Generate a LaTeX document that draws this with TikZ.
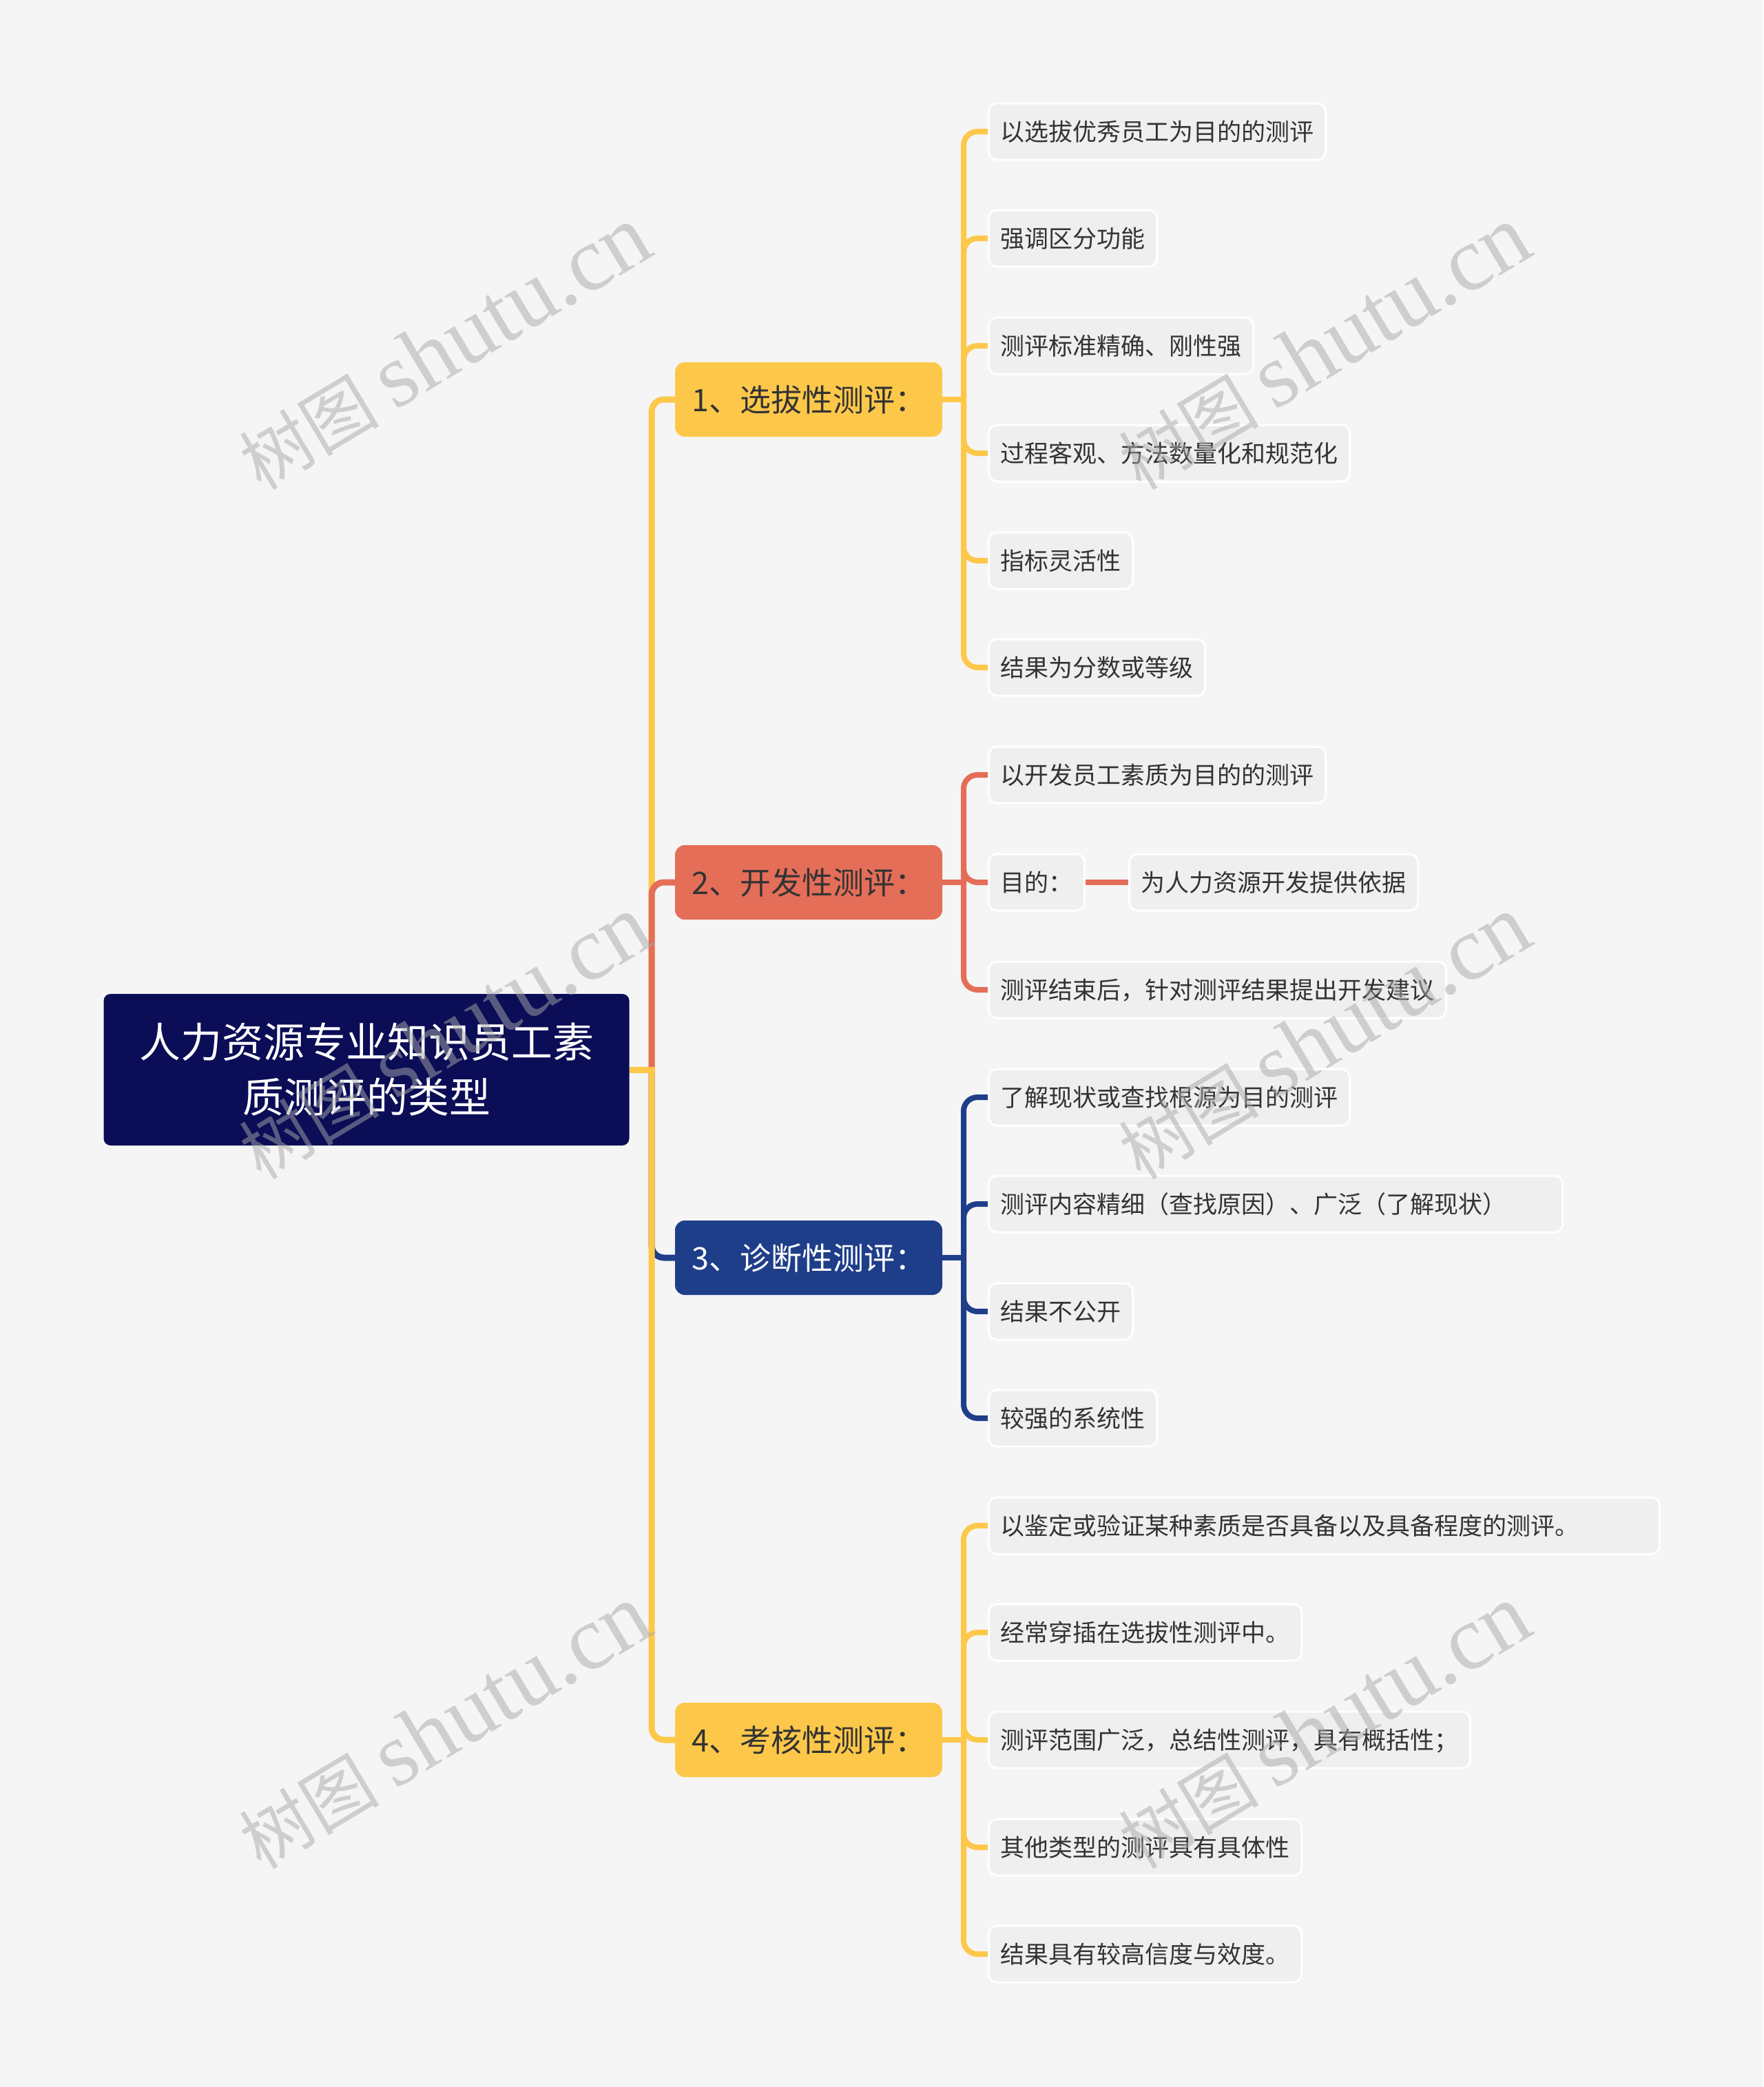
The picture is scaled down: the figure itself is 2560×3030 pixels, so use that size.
\documentclass[tikz,border=0pt]{standalone}
\usepackage{fontspec}
\setmainfont{Noto Sans CJK SC}
\newfontfamily\wmserif{Liberation Serif}
\usetikzlibrary{calc}
\definecolor{bgc}{HTML}{F5F5F5}
\definecolor{rootc}{HTML}{0B0D56}
\definecolor{yel}{HTML}{FDC84A}
\definecolor{sal}{HTML}{E46E58}
\definecolor{nav}{HTML}{1F3E8A}
\definecolor{leaffill}{HTML}{EFEFEF}
\definecolor{txt}{HTML}{333333}
\definecolor{wm}{HTML}{A8A8A8}
\tikzset{
  rootbox/.style={fill=rootc, rounded corners=10, minimum width=763, minimum height=220,
    text=white, font=\fontsize{60}{80}\selectfont, align=center, inner sep=0},
  branchbox/.style={rounded corners=14, minimum width=388, minimum height=108, inner sep=0,
    font=\fontsize{45}{54}\selectfont, text height=36, text depth=1.8},
  leafbox/.style={fill=leaffill, draw=white, line width=3, rounded corners=12, minimum height=82,
    inner xsep=17, inner ysep=0, anchor=west, font=\fontsize{35}{42}\selectfont, text=txt,
    text height=28, text depth=1.4},
  trunkline/.style={line width=9, rounded corners=18},
  leafline/.style={line width=8, rounded corners=20},
  wmark/.style={rotate=31, text=wm, opacity=0.5, font=\fontsize{102}{102}\selectfont}
}
\begin{document}
\begin{tikzpicture}[x=1pt,y=-1pt]
\fill[bgc] (0,0) rectangle (2560,3030);
\useasboundingbox (0,0) rectangle (2560,3030);

% root and branches
\node[rootbox] (root) at (532,1553) {人力资源专业知识员工素\\质测评的类型};
\node[branchbox, fill=yel, text=txt] (b1) at (1174,580) {1、选拔性测评：};
\node[branchbox, fill=sal, text=txt] (b2) at (1174,1281) {2、开发性测评：};
\node[branchbox, fill=nav, text=white] (b3) at (1174,1826) {3、诊断性测评：};
\node[branchbox, fill=yel, text=txt] (b4) at (1174,2526) {4、考核性测评：};

% leaves branch 1
\node[leafbox] (l11) at (1434,191) {以选拔优秀员工为目的的测评};
\node[leafbox] (l12) at (1434,346) {强调区分功能};
\node[leafbox] (l13) at (1434,502) {测评标准精确、刚性强};
\node[leafbox] (l14) at (1434,658) {过程客观、方法数量化和规范化};
\node[leafbox] (l15) at (1434,814) {指标灵活性};
\node[leafbox] (l16) at (1434,969) {结果为分数或等级};
% leaves branch 2
\node[leafbox] (l21) at (1434,1125) {以开发员工素质为目的的测评};
\node[leafbox] (l22) at (1434,1281) {目的：};
\node[leafbox] (l22b) at (1638,1281) {为人力资源开发提供依据};
\node[leafbox] (l23) at (1434,1437) {测评结束后，针对测评结果提出开发建议};
% leaves branch 3
\node[leafbox] (l31) at (1434,1593) {了解现状或查找根源为目的测评};
\node[leafbox, text width=799, align=left] (l32) at (1434,1748) {测评内容精细（查找原因）、广泛（了解现状）};
\node[leafbox] (l33) at (1434,1904) {结果不公开};
\node[leafbox] (l34) at (1434,2059) {较强的系统性};
% leaves branch 4
\node[leafbox, text width=940, align=left] (l41) at (1434,2215) {以鉴定或验证某种素质是否具备以及具备程度的测评。};
\node[leafbox] (l42) at (1434,2370) {经常穿插在选拔性测评中。};
\node[leafbox] (l43) at (1434,2526) {测评范围广泛，总结性测评，具有概括性；};
\node[leafbox] (l44) at (1434,2682) {其他类型的测评具有具体性};
\node[leafbox] (l45) at (1434,2837) {结果具有较高信度与效度。};

% trunk connectors
\coordinate (tj) at (946,1553);
\draw[trunkline, yel] (tj) |- (b1.west);
\draw[trunkline, sal] (tj) |- (b2.west);
\draw[trunkline, nav] (tj) |- (b3.west);
\draw[trunkline, yel] (tj) |- (b4.west);
\draw[line width=9, yel] (root.east) -- ($(tj)+(4.5,0)$);

% leaf connectors
\coordinate (h1) at (1399,580);
\coordinate (h2) at (1399,1281);
\coordinate (h3) at (1399,1826);
\coordinate (h4) at (1399,2526);
\draw[line width=8, yel] (b1.east) -- (h1);
\foreach \l in {l11,l12,l13,l14,l15,l16} \draw[leafline, yel] (h1) |- (\l.west);
\draw[line width=8, sal] (b2.east) -- (h2);
\foreach \l in {l21,l22,l23} \draw[leafline, sal] (h2) |- (\l.west);
\draw[line width=8, sal] (l22.east) -- (l22b.west);
\draw[line width=8, nav] (b3.east) -- (h3);
\foreach \l in {l31,l32,l33,l34} \draw[leafline, nav] (h3) |- (\l.west);
\draw[line width=8, yel] (b4.east) -- (h4);
\foreach \l in {l41,l42,l43,l44,l45} \draw[leafline, yel] (h4) |- (\l.west);

% watermarks
\foreach \x/\y/\n in {645/505/1,1922/505/2,645/1506/3,1922/1506/4,645/2507/5,1922/2507/6}
  \node[wmark] (wm\n) at (\x,\y) {树图 {\wmserif\fontsize{132}{132}\selectfont shutu.cn}};
\end{tikzpicture}
\end{document}
